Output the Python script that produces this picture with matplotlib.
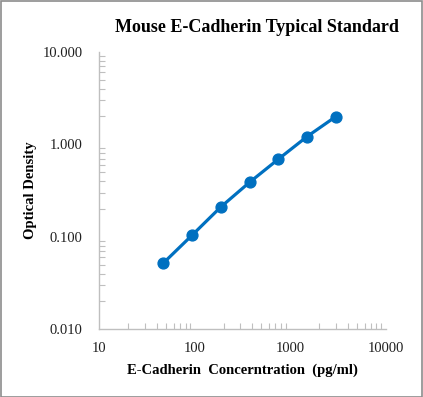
import matplotlib
matplotlib.use("Agg")
import matplotlib.pyplot as plt
import numpy as np
from matplotlib.ticker import LogLocator, FixedLocator, NullFormatter
from matplotlib.patches import Rectangle

conc = [46.9, 93.75, 187.5, 375, 750, 1500, 3000]
od = [0.052, 0.104, 0.210, 0.388, 0.689, 1.21, 1.99]
x_ticks = [10, 100, 1000, 10000]
x_labels = ["10", "100", "1000", "10000"]
y_ticks = [0.01, 0.1, 1, 10]
y_labels = ["0.010", "0.100", "1.000", "10.000"]

title = "Mouse E-Cadherin Typical Standard"
xlabel = "E-Cadherin  Concerntration  (pg/ml)"
ylabel = "Optical Density"

serif = ["Liberation Serif", "DejaVu Serif"]
W, H = 423, 397
fig = plt.figure(figsize=(W / 100, H / 100), dpi=100)
ax = fig.add_axes([99.3 / W, 1 - 329.3 / H, (385.7 - 99.3) / W, (329.3 - 51.7) / H])

blue = "#0070C0"
ax.plot(conc, od, color=blue, lw=2.3, marker="o", ms=7.8, mec=blue, mfc=blue, solid_capstyle="round")
ax.set_xscale("log")
ax.set_yscale("log")
ax.set_xlim(10, 10000)
ax.set_ylim(0.01, 10)

ax.xaxis.set_major_locator(FixedLocator(x_ticks))
ax.set_xticklabels(x_labels)
ax.yaxis.set_major_locator(FixedLocator(y_ticks))
ax.set_yticklabels(y_labels)
ax.xaxis.set_minor_locator(LogLocator(base=10, subs=np.arange(2, 10)))
ax.yaxis.set_minor_locator(LogLocator(base=10, subs=np.arange(2, 10)))
ax.xaxis.set_minor_formatter(NullFormatter())
ax.yaxis.set_minor_formatter(NullFormatter())

gray = "#BFBFBF"
for s in ["top", "right"]:
    ax.spines[s].set_visible(False)
for s in ["left", "bottom"]:
    ax.spines[s].set_color(gray)
    ax.spines[s].set_linewidth(1.0)
ax.tick_params(which="both", direction="in", color=gray, width=0.8)
ax.tick_params(axis="y", which="major", length=0, pad=12)
ax.tick_params(axis="x", which="major", length=0, pad=9)
ax.tick_params(which="minor", length=4)
for lab in ax.get_xticklabels() + ax.get_yticklabels():
    lab.set_family(serif)
    lab.set_fontsize(10.5)
    lab.set_color("#202020")

fig.text(257 / W, 1 - 27 / H, title, ha="center", va="center", fontsize=13,
         fontweight="bold", family=serif)
fig.text(242 / W, 1 - 370 / H, xlabel, ha="center", va="center", fontsize=10.5,
         fontweight="bold", family=serif)
fig.text(30 / W, 1 - 190 / H, ylabel, ha="center", va="center", fontsize=10.5,
         fontweight="bold", family=serif, rotation=90)

fig.patches.append(Rectangle((0.5 / W, 0.5 / H), 1 - 1.5 / W, 1 - 1.5 / H, transform=fig.transFigure,
                             fill=False, edgecolor="#8C8C8C", lw=1.2))
fig.savefig("out.png", dpi=100)
